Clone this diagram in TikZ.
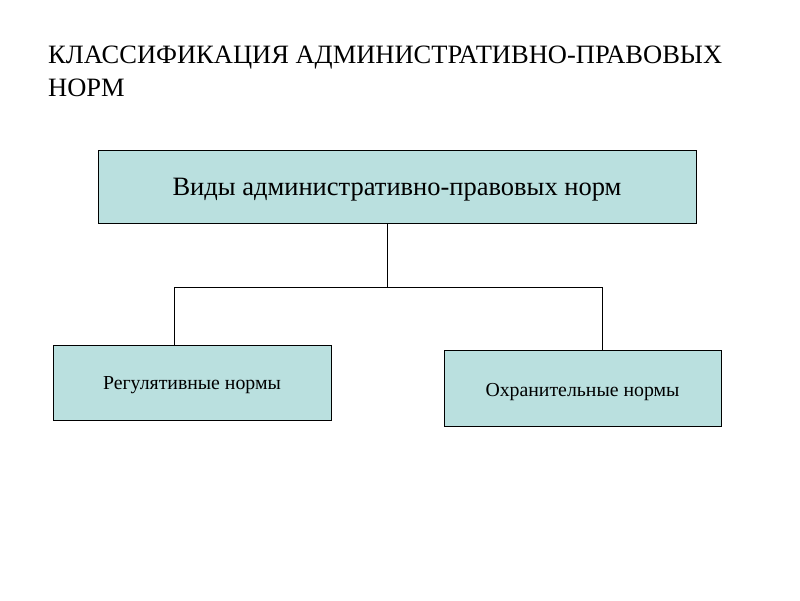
\documentclass[tikz,border=0pt]{standalone}
\usepackage{fontspec}
\setmainfont{Liberation Serif}
\definecolor{boxfill}{RGB}{186,224,223}
\begin{document}
\begin{tikzpicture}[x=1pt,y=-1pt,
  boxst/.style={draw=black, line width=0.9pt, fill=boxfill, inner sep=0pt},
  lblst/.style={inner sep=0pt, font=\fontsize{19.8}{24}\selectfont},
  conn/.style={draw=black, line width=0.9pt}]
\useasboundingbox (0,0) rectangle (800,600);
\fill[white] (0,0) rectangle (800,600);
\node[anchor=north west, inner sep=0pt, align=left, font=\fontsize{26.5}{33}\selectfont] (title) at (48,45.5)
  {КЛАССИФИКАЦИЯ АДМИНИСТРАТИВНО-ПРАВОВЫХ\\НОРМ};
\node[boxst, minimum width=598pt, minimum height=73pt] (top) at (397,186.5) {};
\node[font=\fontsize{26.5}{30}\selectfont, inner sep=0pt] (toplbl) at ([yshift=-3pt]top.center) {Виды административно-правовых норм};
\node[boxst, minimum width=278pt, minimum height=75pt] (left) at (192,382.5) {};
\node[lblst] (leftlbl) at ([yshift=-3pt]left.center) {Регулятивные нормы};
\node[boxst, minimum width=277pt, minimum height=76pt] (right) at (582.5,388) {};
\node[lblst] (rightlbl) at ([yshift=-4pt]right.center) {Охранительные нормы};
\coordinate (mid) at (387,287);
\coordinate (lft) at (174,287);
\coordinate (rgt) at (602,287);
\draw[conn] (top.south -| mid) -- (mid);
\draw[conn] (lft) -- (rgt);
\draw[conn] (lft) -- (left.north -| lft);
\draw[conn] (rgt) -- (right.north -| rgt);
\end{tikzpicture}
\end{document}
